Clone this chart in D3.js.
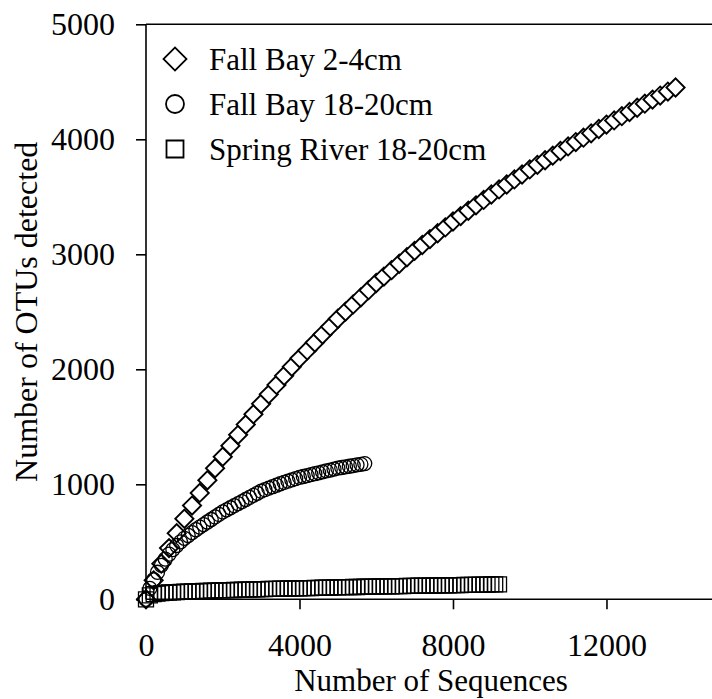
<!doctype html>
<html lang="en">
<head>
  <meta charset="utf-8">
  <title>Rarefaction curves</title>
  <script type="text/javascript" src="https://cdnjs.cloudflare.com/ajax/libs/d3/7.8.5/d3.min.js"></script>
  <style>
    body { margin: 0; background: #fff; }
    text { font-family: "Times New Roman", "Liberation Serif", serif; fill: #000; }
  </style>
</head>
<body>
  <svg width="712" height="699" id="svg"></svg>
</body>
<script type="text/javascript">

	var series_names = ['Fall Bay 2-4cm', 'Fall Bay 18-20cm', 'Spring River 18-20cm'];

	var fb24_x = [0,200,400,600,800,1000,1200,1400,1600,1800,2000,2200,2400,2600,2800,3000,3200,3400,3600,3800,
		4000,4200,4400,4600,4800,5000,5200,5400,5600,5800,6000,6200,6400,6600,6800,7000,7200,7400,7600,7800,
		8000,8200,8400,8600,8800,9000,9200,9400,9600,9800,10000,10200,10400,10600,10800,11000,11200,11400,11600,11800,
		12000,12200,12400,12600,12800,13000,13200,13400,13600,13800];
	var fb24_y = [0,165,310,445,575,700,815,925,1035,1140,1240,1335,1430,1520,1610,1700,1782,1864,1944,2022,
		2095,2164,2233,2302,2371,2440,2502,2564,2626,2688,2750,2806,2862,2918,2974,3030,3081,3132,3183,3234,
		3285,3332,3379,3426,3473,3520,3564,3607,3651,3694,3738,3778,3818,3858,3898,3938,3976,4014,4052,4090,
		4128,4164,4201,4237,4274,4310,4345,4380,4415,4450];

	var fb1820_x = [0,100,200,300,400,500,600,700,800,900,1000,1100,1200,1300,1400,1500,1600,1700,1800,1900,
		2000,2100,2200,2300,2400,2500,2600,2700,2800,2900,3000,3100,3200,3300,3400,3500,3600,3700,3800,3900,
		4000,4100,4200,4300,4400,4500,4600,4700,4800,4900,5000,5100,5200,5300,5400,5500,5600,5700];
	var fb1820_y = [0,95,170,235,295,350,392,432,468,500,530,555,580,605,628,650,672,694,716,738,
		760,778,796,814,832,850,868,886,904,922,940,953,966,979,992,1005,1016,1027,1038,1049,
		1060,1068,1076,1084,1092,1100,1108,1116,1124,1132,1140,1146,1152,1157,1163,1169,1174,1180];

	var sr_x = [0,100,200,300,400,500,600,700,800,900,1000,1100,1200,1300,1400,1500,1600,1700,1800,1900,
		2000,2100,2200,2300,2400,2500,2600,2700,2800,2900,3000,3100,3200,3300,3400,3500,3600,3700,3800,3900,
		4000,4100,4200,4300,4400,4500,4600,4700,4800,4900,5000,5100,5200,5300,5400,5500,5600,5700,5800,5900,
		6000,6100,6200,6300,6400,6500,6600,6700,6800,6900,7000,7100,7200,7300,7400,7500,7600,7700,7800,7900,
		8000,8100,8200,8300,8400,8500,8600,8700,8800,8900,9000,9100,9200];
	var sr_y = [0,35,45,50,54,57,59,61,63,65,66,67,69,70,71,72,74,75,76,77,
		78,79,80,81,82,83,84,85,86,87,88,89,90,90,91,92,93,94,94,95,
		96,97,98,98,99,100,101,102,102,103,104,105,105,106,107,107,108,109,110,110,
		111,112,112,113,113,114,115,115,116,116,117,118,118,119,119,120,121,121,122,122,
		123,124,124,125,125,126,126,127,128,128,129,129,130];

	var x_ticks = [0, 4000, 8000, 12000];
	var y_ticks = [0, 1000, 2000, 3000, 4000, 5000];

	var plotLeft = 146,
		plotRight = 712,
		plotTop = 24.3,
		plotBottom = 599.3;

	var svg = d3.select('#svg');

	var x = d3.scaleLinear()
		.domain([0, 14750])
		.range([plotLeft, plotRight]);

	var y = d3.scaleLinear()
		.domain([0, 5000])
		.range([plotBottom, plotTop]);

	var shapes = [
		{ name: series_names[0], xs: fb24_x, ys: fb24_y, type: d3.symbolSquare, size: 165, rot: 45, sw: 1.9, fill: '#fff' },
		{ name: series_names[1], xs: fb1820_x, ys: fb1820_y, type: d3.symbolCircle, size: 154, rot: 0, sw: 1.3, fill: 'none' },
		{ name: series_names[2], xs: sr_x, ys: sr_y, type: d3.symbolSquare, size: 225, rot: 0, sw: 1.3, fill: 'none' }
	];

	// axes
	var xAxis = svg.append('g')
		.attr('transform', 'translate(0,' + plotBottom + ')')
		.call(d3.axisBottom(x).tickValues(x_ticks).tickSize(10).tickPadding(24).tickFormat(d3.format('d')));

	var yAxis = svg.append('g')
		.attr('transform', 'translate(' + plotLeft + ',0)')
		.call(d3.axisLeft(y).tickValues(y_ticks).tickSize(10).tickPadding(21).tickFormat(d3.format('d')));

	[xAxis, yAxis].forEach(function(g) {
		g.select('.domain').remove();
		g.selectAll('line').attr('stroke', '#000').attr('stroke-width', 1.6);
		g.selectAll('text').attr('font-size', 32).attr('font-family', '"Times New Roman", "Liberation Serif", serif');
	});
	xAxis.selectAll('.tick').filter(function(d) { return d === 0; }).select('line').remove();

	// titles
	svg.append('text')
		.attr('x', 431).attr('y', 691)
		.attr('text-anchor', 'middle')
		.attr('font-size', 31)
		.text('Number of Sequences');

	svg.append('text')
		.attr('transform', 'translate(37,' + ((plotTop + plotBottom) / 2) + ') rotate(-90)')
		.attr('text-anchor', 'middle')
		.attr('font-size', 32)
		.text('Number of OTUs detected');

	// markers: diamonds first (white fill), open circles and squares over them
	shapes.forEach(function(s) {
		var pts = s.xs.map(function(v, i) { return [v, s.ys[i]]; });
		svg.append('g')
			.selectAll('path')
			.data(pts)
			.enter()
			.append('path')
			.attr('d', d3.symbol().type(s.type).size(s.size))
			.attr('transform', function(d) {
				return 'translate(' + x(d[0]) + ',' + y(d[1]) + ') rotate(' + s.rot + ')';
			})
			.attr('fill', s.fill)
			.attr('stroke', '#000')
			.attr('stroke-width', s.sw);
	});

	// frame lines drawn over the markers
	svg.append('line')
		.attr('x1', plotLeft).attr('x2', plotRight)
		.attr('y1', plotBottom).attr('y2', plotBottom)
		.attr('stroke', '#000').attr('stroke-width', 1.6);
	svg.append('line')
		.attr('x1', plotLeft).attr('x2', plotLeft)
		.attr('y1', plotTop).attr('y2', plotBottom)
		.attr('stroke', '#000').attr('stroke-width', 1.6);
	svg.append('line')
		.attr('x1', plotLeft).attr('x2', plotRight)
		.attr('y1', plotTop).attr('y2', plotTop)
		.attr('stroke', '#000').attr('stroke-width', 1.6);

	// legend
	var legend = svg.append('g')
		.selectAll('g')
		.data(shapes)
		.enter()
		.append('g')
		.attr('transform', function(d, i) { return 'translate(175,' + (59 + i * 45) + ')'; });

	legend.append('path')
		.attr('d', function(d, i) {
			var sz = [265, 254, 289][i];
			return d3.symbol().type(d.type).size(sz)();
		})
		.attr('transform', function(d) { return 'rotate(' + d.rot + ')'; })
		.attr('fill', 'none')
		.attr('stroke', '#000')
		.attr('stroke-width', 1.8);

	legend.append('text')
		.attr('x', 34)
		.attr('y', 11)
		.attr('font-size', 31)
		.text(function(d) { return d.name; });

</script>
</html>
